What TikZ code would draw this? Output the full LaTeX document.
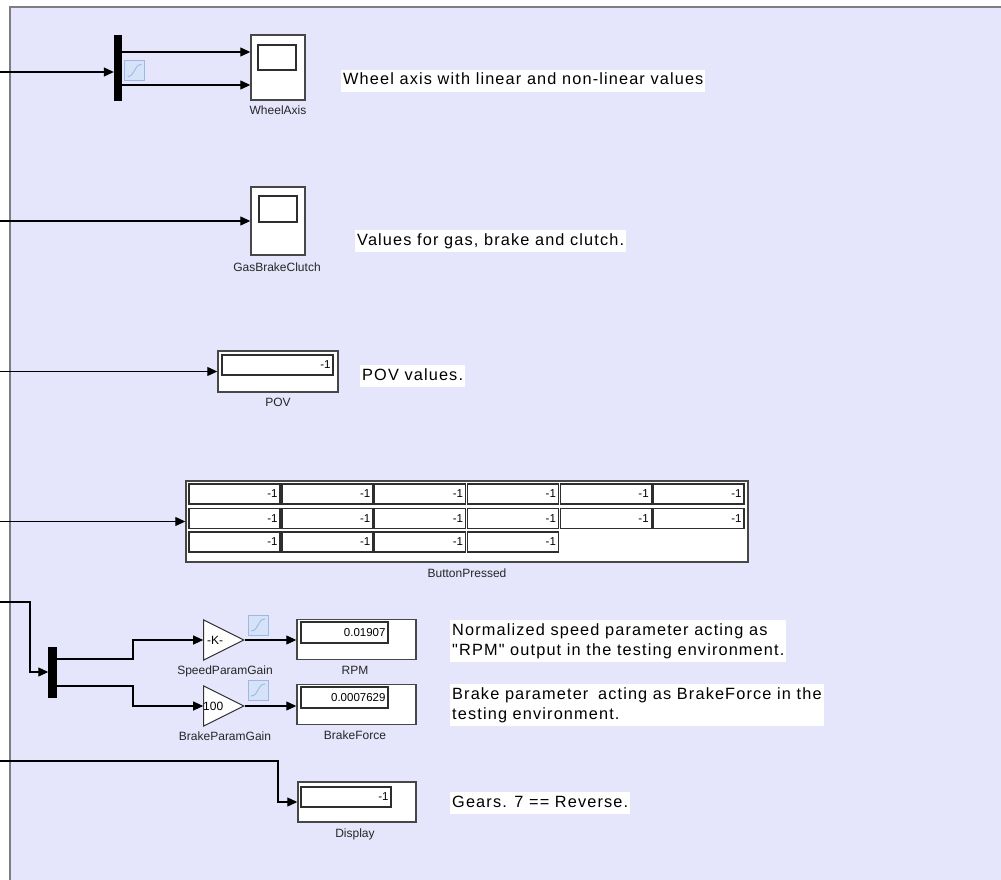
\documentclass[tikz,border=0pt]{standalone}
\usepackage{fontspec}
\setmainfont{Liberation Sans}
\newfontfamily\notefont[LetterSpace=7]{Liberation Sans}
\usetikzlibrary{arrows.meta,shapes.geometric}
\definecolor{canvas}{RGB}{229,229,252}
\definecolor{framegray}{RGB}{125,125,130}
\definecolor{iconfill}{RGB}{214,226,248}
\definecolor{icondraw}{RGB}{158,184,228}
\begin{document}
\begin{tikzpicture}[x=1pt,y=-1pt,
  sig/.style={draw=black, line width=1.1pt, -{Triangle[length=10pt,width=9pt]}},
  blk/.style={draw=black!72, line width=1.4pt, fill=white, inner sep=0pt},
  screen/.style={draw=black!82, line width=1.4pt, fill=white, inner sep=0pt},
  muxbar/.style={draw=black, fill=black, inner sep=0pt},
  gainblk/.style={isosceles triangle, isosceles triangle stretches, draw=black!80,
    line width=1pt, fill=white, minimum width=40pt, minimum height=40pt, inner sep=0pt},
  blklabel/.style={font=\fontsize{12}{14}\selectfont, text=black!85, inner sep=0pt},
  valtext/.style={font=\fontsize{11.5}{13}\selectfont, anchor=east, inner sep=0pt},
  gaintext/.style={font=\fontsize{12}{14}\selectfont, anchor=west, inner sep=0pt},
  note/.style={fill=white, font=\notefont\fontsize{16.3}{20}\selectfont, anchor=west,
    inner xsep=2pt, inner ysep=3pt, align=left},
  icon/.style={draw=icondraw, fill=iconfill, line width=0.8pt, minimum size=20pt, inner sep=0pt},
  iconcurve/.style={draw=icondraw, line width=0.9pt}
]
\useasboundingbox (0,0) rectangle (1001,880);
\fill[white] (0,0) rectangle (1001,880);
% model canvas
\fill[canvas] (10,7) rectangle (1001,880);
\draw[framegray, line width=1.5pt] (10,880) -- (10,7) -- (1001,7);

% ---------- wheel axis ----------
\node[muxbar, minimum width=7pt, minimum height=65pt] (mux1) at (117.5,67.5) {};
\node[icon] (ic1) at (134.5,70.5) {};
\draw[iconcurve] ([shift={(-7pt,-6pt)}]ic1.center) .. controls ([shift={(1pt,-6pt)}]ic1.center) and ([shift={(-1pt,6pt)}]ic1.center) .. ([shift={(7pt,6pt)}]ic1.center);
\node[blk, minimum width=54pt, minimum height=65pt] (wheel) at (278,67.5) {};
\node[screen, minimum width=38pt, minimum height=25pt] (wheelscr) at (277,57.5) {};
\node[blklabel] (wheellbl) at (278,110) {WheelAxis};
\coordinate (in1) at (0,72);
\coordinate (m1o1) at ([yshift=15.5pt]mux1.east);
\coordinate (m1o2) at ([yshift=-17.5pt]mux1.east);
\draw[sig] (in1) -- (in1 -| mux1.west);
\draw[sig] (m1o1) -- (m1o1 -| wheel.west);
\draw[sig] (m1o2) -- (m1o2 -| wheel.west);
\node[note, text height=12pt, text depth=4pt] (n1) at (341,81) {Wheel axis with linear and non-linear values};

% ---------- gas / brake / clutch ----------
\node[blk, minimum width=54pt, minimum height=68pt] (gbc) at (278,221) {};
\node[screen, minimum width=38pt, minimum height=26pt] (gbcscr) at (278,209) {};
\node[blklabel] (gbclbl) at (277,267) {GasBrakeClutch};
\coordinate (in2) at (0,221);
\draw[sig] (in2) -- (gbc.west);
\node[note, text height=12pt, text depth=4pt] (n2) at (355,241) {Values for gas, brake and clutch.};

% ---------- POV ----------
\node[blk, minimum width=120pt, minimum height=41pt] (pov) at (278,371.5) {};
\node[screen, minimum width=111pt, minimum height=20pt] (povfld) at (277.5,365) {};
\node[valtext] (povval) at ([xshift=-3pt]povfld.east) {-1};
\node[blklabel] (povlbl) at (278,402) {POV};
\coordinate (in3) at (0,371.5);
\draw[sig] (in3) -- (pov.west);
\node[note, text height=12pt, text depth=4pt] (n3) at (360,376) {POV values.};

% ---------- buttons ----------
\node[blk, minimum width=562pt, minimum height=81pt] (bp) at (467,521.5) {};
\foreach \r/\yc/\nc in {1/494/6, 2/518.5/6, 3/542/4} {
  \foreach \c in {1,...,\nc} {
    \pgfmathsetmacro{\xc}{189+45.5+(\c-1)*92.8}
    \node[screen, minimum width=91pt, minimum height=20pt] (bp\r\c) at (\xc,\yc) {};
    \node[valtext] (bpv\r\c) at ([xshift=-3pt]bp\r\c.east) {-1};
  }
}
\node[blklabel] (bplbl) at (467,573) {ButtonPressed};
\coordinate (in4) at (0,521.5);
\draw[sig] (in4) -- (bp.west);

% ---------- speed / brake parameters ----------
\node[muxbar, minimum width=8pt, minimum height=50pt] (mux2) at (52.5,672) {};
\coordinate (in5) at (0,602);
\coordinate (in5bend) at (30,602);
\draw[sig] (in5) -- (in5bend) |- (mux2.west);

\node[gainblk, anchor=east] (g1) at (245,640) {};
\node[gaintext] (g1txt) at (207,640) {-K-};
\node[blklabel] (g1lbl) at (225,671) {SpeedParamGain};
\node[gainblk, anchor=east] (g2) at (245,706) {};
\node[gaintext] (g2txt) at (203,706) {100};
\node[blklabel] (g2lbl) at (225,736) {BrakeParamGain};

\node[icon] (ic2) at (258,625) {};
\draw[iconcurve] ([shift={(-7pt,-6pt)}]ic2.center) .. controls ([shift={(1pt,-6pt)}]ic2.center) and ([shift={(-1pt,6pt)}]ic2.center) .. ([shift={(7pt,6pt)}]ic2.center);
\node[icon] (ic3) at (258,690) {};
\draw[iconcurve] ([shift={(-7pt,-6pt)}]ic3.center) .. controls ([shift={(1pt,-6pt)}]ic3.center) and ([shift={(-1pt,6pt)}]ic3.center) .. ([shift={(7pt,6pt)}]ic3.center);

\coordinate (m2o1) at ([yshift=13pt]mux2.east);
\coordinate (m2o2) at ([yshift=-14pt]mux2.east);
\coordinate (m2b1) at (133,659);
\coordinate (m2b2) at (133,686);
\draw[sig] (m2o1) -- (m2b1) |- (g1.west);
\draw[sig] (m2o2) -- (m2b2) |- (g2.west);

\node[blk, minimum width=119pt, minimum height=40pt] (rpm) at (356.5,639.5) {};
\node[screen, minimum width=87pt, minimum height=21pt] (rpmfld) at (344.5,632.5) {};
\node[valtext] (rpmval) at ([xshift=-3pt]rpmfld.east) {0.01907};
\node[blklabel] (rpmlbl) at (355,670) {RPM};
\node[blk, minimum width=119pt, minimum height=40pt] (bf) at (356.5,704.5) {};
\node[screen, minimum width=87pt, minimum height=21pt] (bffld) at (344.5,697.5) {};
\node[valtext] (bfval) at ([xshift=-3pt]bffld.east) {0.0007629};
\node[blklabel] (bflbl) at (355,735) {BrakeForce};
\draw[sig] (g1.east) -- (g1.east -| rpm.west);
\draw[sig] (g2.east) -- (g2.east -| bf.west);

\node[note] (n4) at (450,641) {Normalized speed parameter acting as\\"RPM" output in the testing environment.};
\node[note] (n5) at (450,705) {Brake parameter\hspace{4pt} acting as BrakeForce in the\\testing environment.};

% ---------- gear display ----------
\node[blk, minimum width=118pt, minimum height=40pt] (disp) at (357,802) {};
\node[screen, minimum width=90pt, minimum height=20pt] (dispfld) at (346,797) {};
\node[valtext] (dispval) at ([xshift=-3pt]dispfld.east) {-1};
\node[blklabel] (displbl) at (355,834) {Display};
\coordinate (in6) at (0,761);
\coordinate (in6bend) at (278,761);
\draw[sig] (in6) -- (in6bend) |- (disp.west);
\node[note, text height=12pt, text depth=4pt] (n6) at (450,803) {Gears. 7 == Reverse.};
\end{tikzpicture}
\end{document}
